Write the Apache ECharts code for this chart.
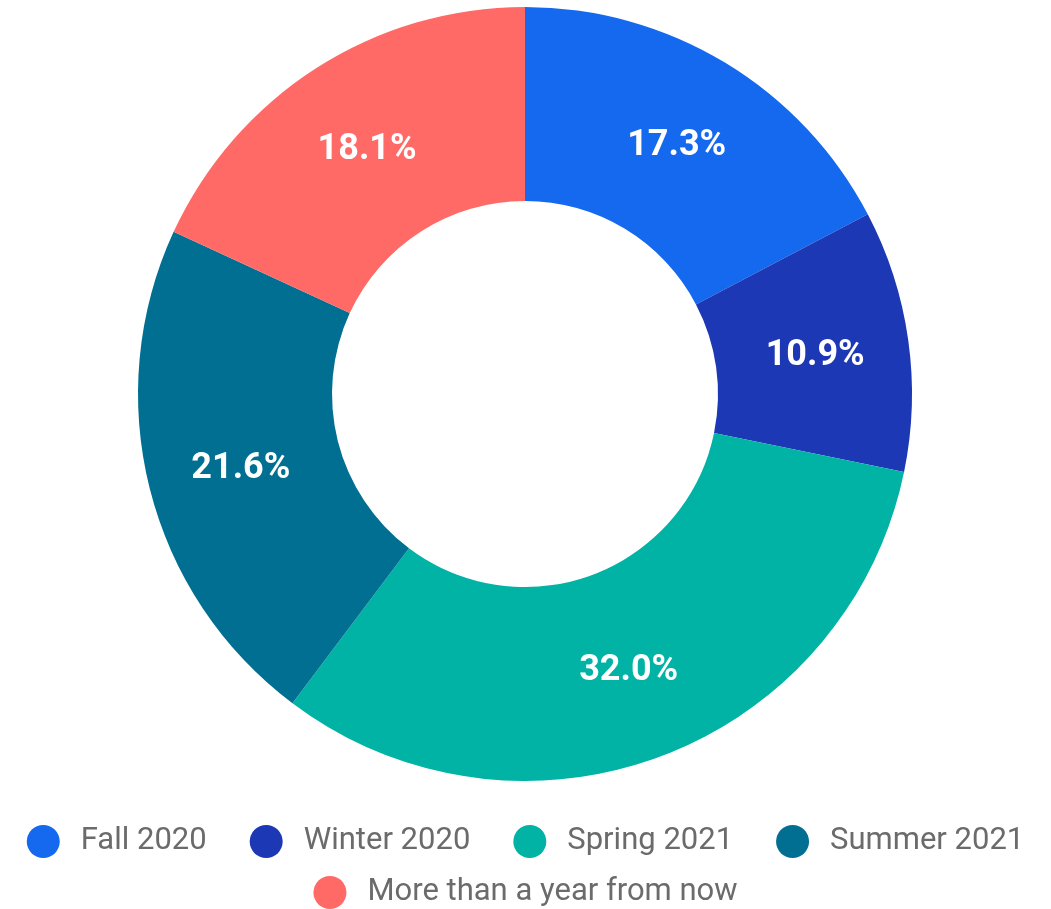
<!DOCTYPE html>
<html>
<head>
<meta charset="utf-8">
<script src="https://cdn.jsdelivr.net/npm/echarts@6/dist/echarts.min.js"></script>
<style>
  html, body { margin: 0; padding: 0; background: #ffffff; }
  #chart { width: 1051px; height: 909px; }
</style>
</head>
<body>
<div id="chart"></div>
<script>
// Share of respondents by expected timing
const categories = ['Fall 2020', 'Winter 2020', 'Spring 2021', 'Summer 2021', 'More than a year from now'];
const shares = [17.3, 10.9, 32.0, 21.6, 18.1];
const palette = ['#1469EE', '#1C38B5', '#00B3A4', '#016F92', '#FF6966'];

const chart = echarts.init(document.getElementById('chart'), null, { renderer: 'canvas' });

const legendBase = {
  orient: 'horizontal',
  left: 'center',
  icon: 'circle',
  itemWidth: 33,
  itemHeight: 33,
  itemGap: 43,
  padding: 0,
  selectedMode: false,
  textStyle: {
    fontFamily: 'Roboto',
    fontSize: 31,
    color: '#6b6b6b',
    padding: [0, 0, 0, 16]
  }
};

chart.setOption({
  animation: false,
  color: palette,
  legend: [
    Object.assign({}, legendBase, { top: 825, data: categories.slice(0, 4) }),
    Object.assign({}, legendBase, { top: 876, data: categories.slice(4) })
  ],
  series: [{
    type: 'pie',
    center: [525, 394],
    radius: [193, 387],
    startAngle: 90,
    clockwise: true,
    avoidLabelOverlap: false,
    label: {
      show: true,
      position: 'inside',
      fontFamily: 'Roboto',
      fontWeight: 'bold',
      fontSize: 36,
      color: '#ffffff',
      offset: [0, 3],
      formatter: p => p.value.toFixed(1) + '%'
    },
    labelLine: { show: false },
    itemStyle: { borderWidth: 0 },
    emphasis: { disabled: true },
    data: categories.map((name, i) => ({ name: name, value: shares[i] }))
  }]
});
</script>
</body>
</html>
